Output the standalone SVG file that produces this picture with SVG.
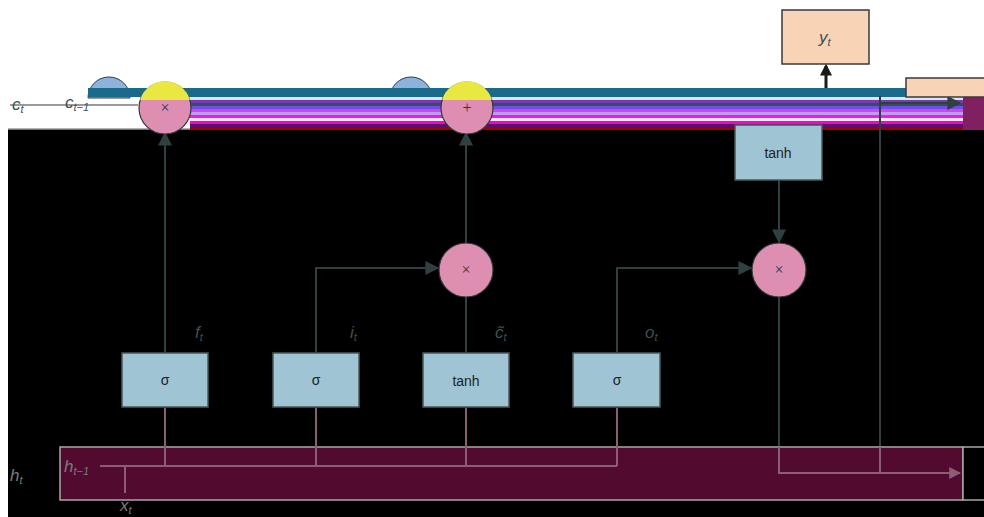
<svg xmlns="http://www.w3.org/2000/svg" width="984" height="517" viewBox="0 0 984 517">
  <defs>
    <marker id="arr" viewBox="0 0 10 10" refX="9" refY="5" markerWidth="7" markerHeight="7" orient="auto-start-reverse">
      <path d="M0,0 L10,5 L0,10 z" fill="#2f4040"/>
    </marker>
    <marker id="arrOut" viewBox="0 0 10 10" refX="9" refY="5" markerWidth="6" markerHeight="6" orient="auto">
      <path d="M0,0 L10,5 L0,10 z" fill="#8a5f74"/>
    </marker>
    <marker id="arrY" viewBox="0 0 10 10" refX="8" refY="5" markerWidth="4" markerHeight="4" orient="auto">
      <path d="M0,0 L10,5 L0,10 z" fill="#1a1a1a"/>
    </marker>
  </defs>
  <style>
    .gate { fill: #9fc5d5; stroke: #4a5858; stroke-width: 1.5; }
    .peach { fill: #f8d3b5; stroke: #3a3a3a; stroke-width: 1.5; }
    .mul { fill: #de8fb1; stroke: #2f3a3a; stroke-width: 1.2; }
    .wire { fill: none; stroke: #2f4040; stroke-width: 2; }
    .wire2 { fill: none; stroke: #8a5f74; stroke-width: 2; }
    .lbl { font-family: "Liberation Sans", Arial, sans-serif; font-size: 14px; fill: #222; text-anchor: middle; }
    .sym { font-family: "Liberation Serif", serif; font-size: 16px; fill: #333; text-anchor: middle; }
    .var { font-family: "Liberation Sans", Arial, sans-serif; font-style: italic; font-size: 17px; fill: #3c5252; }
    .varW { font-family: "Liberation Sans", Arial, sans-serif; font-style: italic; font-size: 17px; fill: #7a7a7a; }
    .sub { font-size: 11px; }
  </style>

  <!-- page background -->
  <rect x="0" y="0" width="984" height="517" fill="#ffffff"/>
  <rect x="8" y="129" width="976" height="388" fill="#000000"/>
  <line x1="8" y1="129" x2="984" y2="129" stroke="#9a9a9a" stroke-width="1.5"/>

  <!-- cell-state band -->
  <g id="cell-band">
    <path d="M88,98 A21,21 0 0 1 130,98 Z" fill="#8db3dd" stroke="#2a3a4a" stroke-width="1"/>
    <path d="M390,98 A21,21 0 0 1 432,98 Z" fill="#8db3dd" stroke="#2a3a4a" stroke-width="1"/>
    <rect x="88" y="88" width="896" height="9" fill="#1a6a8c"/>
    <rect x="190" y="97" width="794" height="3" fill="#d8e8f0"/>
    <rect x="190" y="100" width="794" height="3" fill="#7a3ab8"/>
    <rect x="190" y="103" width="794" height="3" fill="#3d4d4d"/>
    <rect x="190" y="106" width="794" height="3" fill="#6a50f0"/>
    <rect x="190" y="109" width="794" height="3" fill="#e040e8"/>
    <rect x="190" y="112" width="794" height="3" fill="#b8a0f0"/>
    <rect x="190" y="115" width="794" height="3" fill="#ff10f0"/>
    <rect x="190" y="118" width="794" height="3" fill="#e8e8ff"/>
    <rect x="190" y="121" width="794" height="3" fill="#ff00c8"/>
    <rect x="190" y="124" width="794" height="3" fill="#5a1070"/>
    <rect x="190" y="127" width="794" height="3" fill="#a00000"/>
    <rect x="963" y="97" width="21" height="33" fill="#802060"/>
    <line x1="10" y1="105" x2="138" y2="105" stroke="#7a7a7a" stroke-width="1.5"/>
  </g>

  <!-- connectors -->
  <g id="connectors">
    <path class="wire" d="M165,352 V133" marker-end="url(#arr)"/>
    <path class="wire" d="M316,352 V268 H438" marker-end="url(#arr)"/>
    <path class="wire" d="M466,352 V297"/>
    <path class="wire" d="M466,243 V133" marker-end="url(#arr)"/>
    <path class="wire" d="M617,352 V268 H751" marker-end="url(#arr)"/>
    <path class="wire" d="M779,180 V242" marker-end="url(#arr)"/>
    <path class="wire" d="M779,297 V447"/>
    <path class="wire" d="M880,447 V96"/>
    <path class="wire" d="M880,103 H960" marker-end="url(#arr)"/>
    <path d="M826,88 V66" stroke="#1a1a1a" stroke-width="3" fill="none" marker-end="url(#arrY)"/>
  </g>

  <!-- hidden-state bar -->
  <g id="hidden-bar">
    <rect x="60" y="447" width="903" height="53" fill="#520b2e" stroke="#a8a8a8" stroke-width="1.5"/>
    <rect x="963" y="447" width="30" height="53" fill="#000" stroke="#a8a8a8" stroke-width="1.5"/>
    <path class="wire2" d="M100,466 H617"/>
    <path class="wire2" d="M165,408 V466 M316,408 V466 M466,408 V466 M617,408 V466"/>
    <path class="wire2" d="M125,466 V493"/>
    <path class="wire2" d="M779,447 V473 H960" marker-end="url(#arrOut)"/>
    <path class="wire2" d="M880,447 V473"/>
  </g>

  <!-- forget multiplier -->
  <g id="mul-forget">
    <circle class="mul" cx="165" cy="108" r="26"/>
    <path d="M140,100 A26,26 0 0 1 190,100 Z" fill="#e8e840"/>
    <text class="sym" x="165" y="113">×</text>
  </g>
  <!-- input add node -->
  <g id="mul-input">
    <circle class="mul" cx="467" cy="108" r="26"/>
    <path d="M442,100 A26,26 0 0 1 492,100 Z" fill="#e8e840"/>
    <text class="sym" x="467" y="113">+</text>
  </g>

  <g id="mul-cand"><circle class="mul" cx="466" cy="270" r="27"/><text class="sym" x="466" y="275">×</text></g>
  <g id="mul-out"><circle class="mul" cx="779" cy="270" r="27"/><text class="sym" x="779" y="275">×</text></g>

  <g id="gate-f"><rect class="gate" x="122" y="353" width="86" height="54"/><text class="lbl" x="165" y="385">σ</text></g>
  <g id="gate-i"><rect class="gate" x="273" y="353" width="86" height="54"/><text class="lbl" x="316" y="385">σ</text></g>
  <g id="gate-c"><rect class="gate" x="423" y="353" width="86" height="54"/><text class="lbl" x="466" y="386">tanh</text></g>
  <g id="gate-o"><rect class="gate" x="573" y="353" width="87" height="54"/><text class="lbl" x="617" y="385">σ</text></g>
  <g id="tanh-out"><rect class="gate" x="735" y="125" width="87" height="55"/><text class="lbl" x="778" y="158">tanh</text></g>

  <g id="y-out"><rect class="peach" x="782" y="10" width="87" height="54"/><text class="var" x="819" y="43" fill="#222">y<tspan class="sub" dy="3">t</tspan></text></g>
  <g id="next-cell"><rect class="peach" x="906" y="78" width="85" height="19"/></g>

  <!-- labels -->
  <text class="var" x="195" y="338">f<tspan class="sub" dy="3">t</tspan></text>
  <text class="var" x="350" y="338">i<tspan class="sub" dy="3">t</tspan></text>
  <text class="var" x="495" y="338">c&#x303;<tspan class="sub" dy="3">t</tspan></text>
  <text class="var" x="645" y="338">o<tspan class="sub" dy="3">t</tspan></text>
  <text class="varW" x="10" y="481">h<tspan class="sub" dy="3">t</tspan></text>
  <text class="varW" x="64" y="472">h<tspan class="sub" dy="3">t−1</tspan></text>
  <text class="varW" x="120" y="511">x<tspan class="sub" dy="3">t</tspan></text>
  <text class="var" x="12" y="110" fill="#555">c<tspan class="sub" dy="3">t</tspan></text>
  <text class="var" x="65" y="108" fill="#555">c<tspan class="sub" dy="3">t−1</tspan></text>
</svg>
